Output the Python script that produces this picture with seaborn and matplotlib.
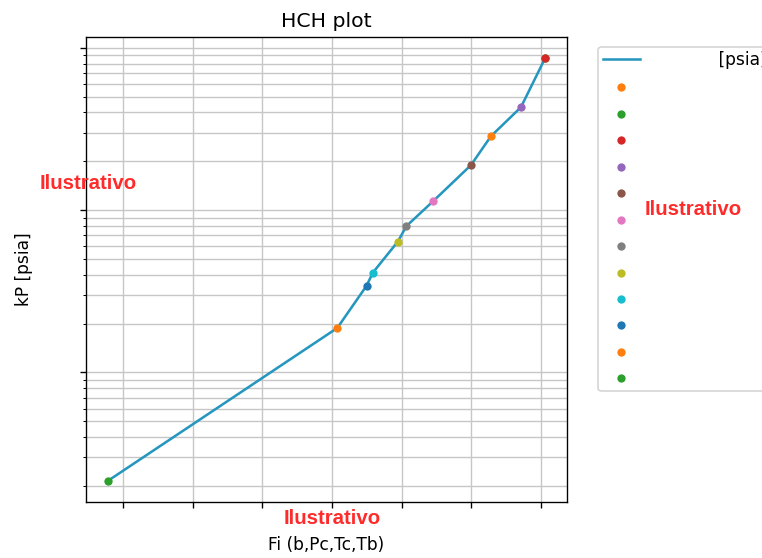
import numpy as np
import seaborn as sns
import matplotlib.pyplot as plt

# HCH plot data, legend order
fi = [2.140, 2.529, 2.529, 2.355, 1.997, 1.725, 1.534, 1.472, 1.293, 1.248, 1.038, -0.607]
kp = [285.6, 865.0, 865.0, 430.7, 189.6, 113.5, 79.8, 64.0, 41.2, 34.2, 18.8, 2.15]
point_colors = ['C1', 'C2', 'C3', 'C4', 'C5', 'C6', 'C7', 'C8', 'C9', 'C0', 'C1', 'C2']
fi_ticks = [-0.5, 0.0, 0.5, 1.0, 1.5, 2.0, 2.5]

line_label = ' ' * 12 + '[psia]'
line_color = '#2596be'
stamp = 'Ilustrativo'

fig = plt.figure(figsize=(6.2461, 4.5738), dpi=122)
ax = fig.add_axes([0.1129, 0.1004, 0.6312, 0.8333])
ax.set_yscale('log')

sns.lineplot(x=fi, y=kp, sort=True, estimator=None, color=line_color,
             linewidth=1.5, label=line_label, ax=ax)
for x, y, c in zip(fi, kp, point_colors):
    sns.scatterplot(x=[x], y=[y], color=c, s=24, linewidth=0, label=' ',
                    ax=ax, zorder=3)

ax.set_xticks(fi_ticks)
ax.grid(True, which='both', color='#c6c6c6', linewidth=0.8)
ax.tick_params(labelbottom=False, labelleft=False)
ax.set_title('HCH plot')
ax.set_xlabel('Fi (b,Pc,Tc,Tb)', labelpad=16.5)
ax.set_ylabel('kP [psia]', labelpad=26)

ax.legend(loc='upper left', bbox_to_anchor=(590 / 762, 1 - 38.5 / 558),
          bbox_transform=fig.transFigure, handlelength=2.2, borderpad=0.25)

# watermarks
for fx, fy in [(0.1155, 0.672), (0.4357, 0.0699), (0.9094, 0.6254)]:
    fig.text(fx, fy, stamp, color='#ff2b2b', fontsize=12, fontweight='bold',
             family='Liberation Sans', ha='center', va='center', zorder=10)

fig.savefig('out.png', dpi=122)
